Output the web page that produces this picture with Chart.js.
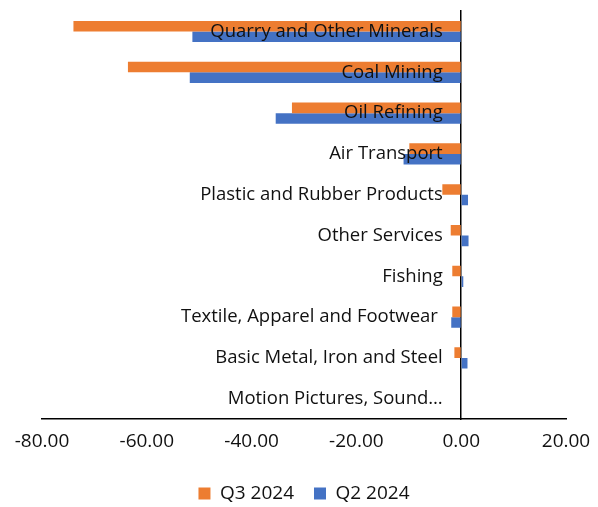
<!DOCTYPE html>
<html>
<head>
<meta charset="utf-8">
<script src="https://cdn.jsdelivr.net/npm/chart.js@4"></script>
<style>
  html, body { margin: 0; padding: 0; background: #fff; }
  #wrap { width: 598px; height: 507px; }
</style>
</head>
<body>
<div id="wrap"><canvas id="chart"></canvas></div>
<script>
// categories, top to bottom
const industries = [
  'Quarry and Other Minerals',
  'Coal Mining',
  'Oil Refining',
  'Air Transport',
  'Plastic and Rubber Products',
  'Other Services',
  'Fishing',
  'Textile, Apparel and Footwear ',
  'Basic Metal, Iron and Steel',
  'Motion Pictures, Sound\u2026'
];

// series values
const q3_2024 = [-74.0, -63.6, -32.3, -9.9, -3.6, -2.0, -1.7, -1.7, -1.3, -0.1];
const q2_2024 = [-51.3, -51.8, -35.4, -11.0, 1.3, 1.4, 0.4, -1.9, 1.2, 0.0];

// x axis ticks
const xMin = -80;
const xMax = 20;
const xStep = 20;

Chart.defaults.font.family = '"Open Sans", Lato, sans-serif';
Chart.defaults.color = '#111';

const ctx = document.getElementById('chart');
const myChart = new Chart(ctx, {
  type: 'bar',
  data: {
    labels: industries,
    datasets: [{
      label: 'Q3 2024',
      data: q3_2024,
      backgroundColor: '#ED7D31',
      borderWidth: 0
    }, {
      label: 'Q2 2024',
      data: q2_2024,
      backgroundColor: '#4472C4',
      borderWidth: 0
    }]
  },
  options: {
    indexAxis: 'y',
    responsive: true,
    maintainAspectRatio: false,
    animation: false,
    categoryPercentage: 0.52,
    barPercentage: 1.0,
    layout: {
      padding: { top: 0, left: 42, right: 32, bottom: 0 }
    },
    plugins: {
      legend: {
        position: 'bottom',
        maxHeight: 43,
        labels: {
          boxWidth: 12,
          boxHeight: 12,
          padding: 20,
          font: { size: 19 }
        }
      },
      tooltip: { enabled: false }
    },
    scales: {
      x: {
        min: xMin,
        max: xMax,
        // invisible tick marks give the gap under the axis line
        grid: {
          display: true,
          drawOnChartArea: false,
          drawTicks: true,
          tickLength: 11,
          color: 'rgba(0,0,0,0)'
        },
        border: { display: true, color: '#000', width: 1.5 },
        ticks: {
          stepSize: xStep,
          padding: 0,
          font: { size: 19 },
          callback: (v) => Number(v).toFixed(2)
        },
        afterFit: (scale) => { scale.height += 11; }
      },
      y: {
        position: { x: 0 },
        grid: { display: false, drawTicks: false },
        border: { display: true, color: '#000', width: 1.5 },
        ticks: {
          z: 1,
          padding: 0,
          font: { size: 18.5 },
          autoSkip: false,
          // keep a gap between the labels and the zero line
          callback: (v, i) => industries[i] + '\u2003'
        }
      }
    }
  }
});
</script>
</body>
</html>
